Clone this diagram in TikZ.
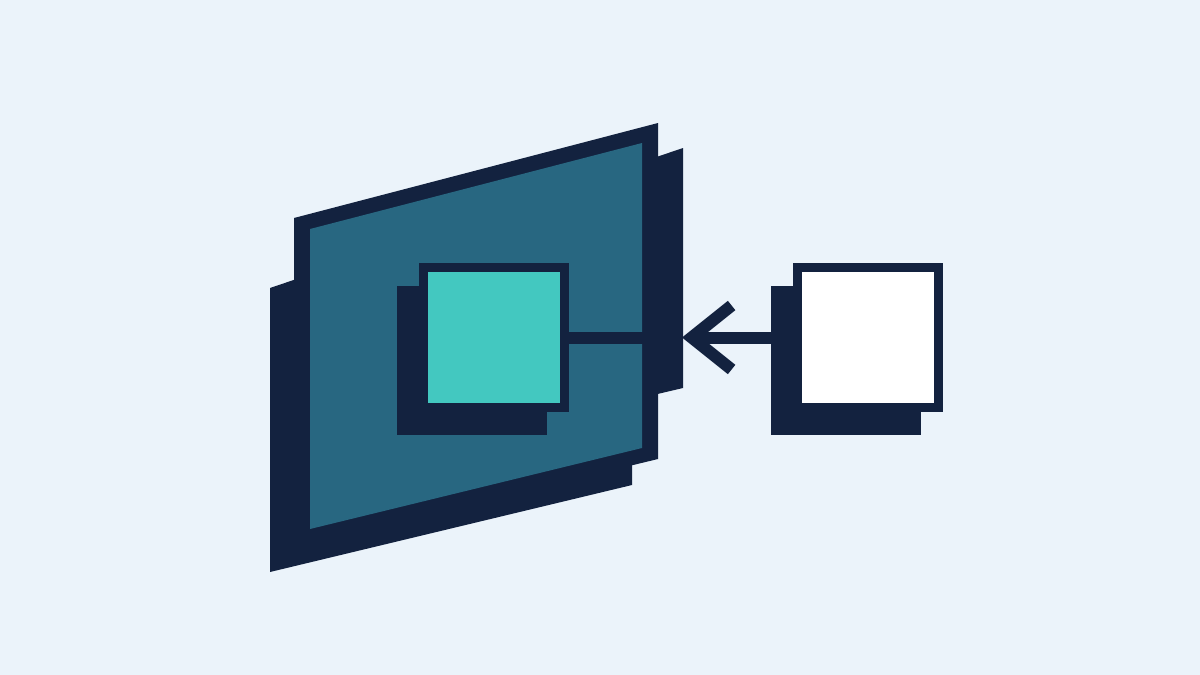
\documentclass[tikz,border=0pt]{standalone}
\usetikzlibrary{arrows.meta,shadows}
\definecolor{bgblue}{HTML}{EBF3FA}
\definecolor{navy}{HTML}{13223F}
\definecolor{panelteal}{HTML}{286781}
\definecolor{lightteal}{HTML}{43C8C0}
\tikzset{
    box/.style={rectangle, draw=navy, line width=9pt, minimum width=141pt, minimum height=140pt, inner sep=0pt,
        drop shadow={shadow xshift=-22pt, shadow yshift=-23pt, fill=navy, draw=navy, line width=9pt, opacity=1}},
    conn/.style={draw=navy, line width=12pt}
}

\begin{document}
\begin{tikzpicture}
  [
    x = 1pt,
    y = -1pt,
  ]
  \fill [bgblue] (0,0) rectangle (1200,675);
  \useasboundingbox (0,0) rectangle (1200,675);
  % big panel
  \fill [navy] (270,288) -- (683,148) -- (683,388) -- (632,400) -- (632,485) -- (270,572) -- cycle;
  \fill [navy] (294,218) -- (658,123) -- (658,459) -- (294,547) -- cycle;
  \fill [panelteal] (310,229) -- (642,143) -- (642,448) -- (310,529) -- cycle;
  % squares
  \node [box, fill=lightteal] (sqbox) at (494,337.5) {};
  \node [box, fill=white] (whitebox) at (867.5,337.5) {};
  \coordinate (tip) at (682,337.5);
  \draw [conn] (sqbox.east) -- (tip);
  \draw [conn, -{Straight Barb[length=40pt, width=64pt, line width=12pt]}] (whitebox.west) -- (tip);
\end{tikzpicture}
\end{document}
